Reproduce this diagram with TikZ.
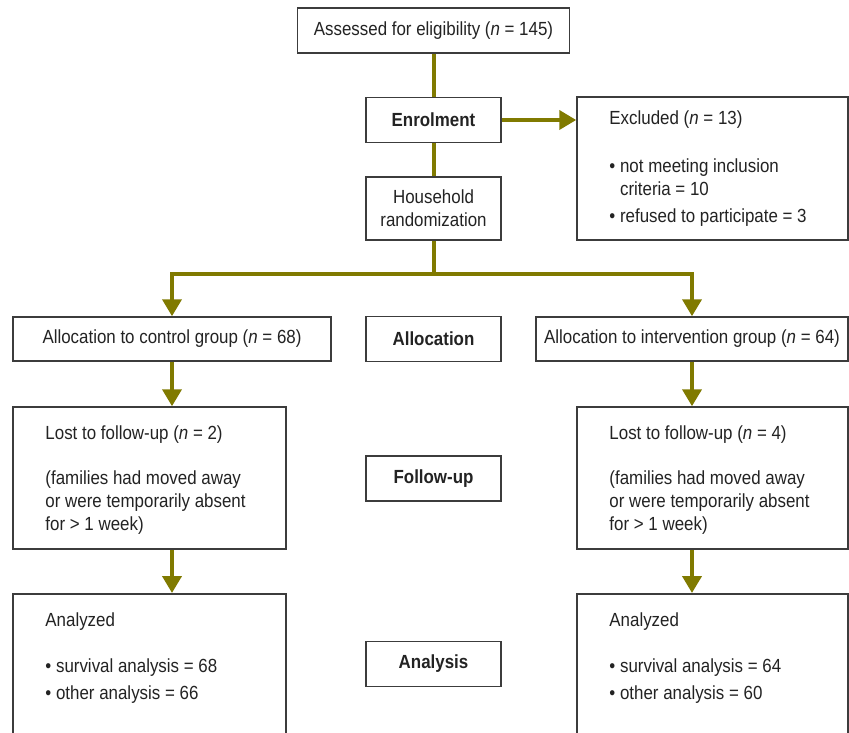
\documentclass[tikz,border=0pt]{standalone}
\usepackage{fontspec}
\setmainfont{Liberation Sans}[FakeStretch=0.89]
\usepackage{xcolor}
\usepackage{tikz}
\usetikzlibrary{arrows.meta, positioning, calc}
\definecolor{flowolive}{RGB}{128,122,0}
\definecolor{framegray}{RGB}{60,60,60}
\definecolor{inkgray}{RGB}{35,35,35}
\tikzset{
    frame/.style={
        rectangle,
        draw=framegray,
        line width=1.5pt,
        fill=white,
        inner sep=0pt,
        text=inkgray,
        font=\fontsize{19}{23}\selectfont
    },
    stage/.style={
        frame,
        minimum width=135pt,
        minimum height=45pt,
        font=\fontsize{19}{23}\selectfont\bfseries
    },
    boxtext/.style={
        anchor=west,
        align=left,
        inner sep=0pt,
        text=inkgray,
        font=\fontsize{19}{23}\selectfont
    },
    link/.style={
        draw=flowolive,
        line width=4pt
    },
    arrowlink/.style={
        link,
        -{Triangle[length=17pt,width=19pt]}
    }
}

\begin{document}
\begin{tikzpicture}[x=1pt, y=-1pt]
\useasboundingbox (0,0) rectangle (849,733);
\clip (0,0) rectangle (849,733);

% Centre column
\node[frame, minimum width=272pt, minimum height=45pt] (assess) at (433.5,30.5) {Assessed for eligibility (\textit{n} = 145)};
\node[stage] (enrol) at (433.5,120) {Enrolment};
\node[frame, minimum width=135pt, minimum height=63pt, align=center] (house) at (433.5,208.5) {Household\\randomization};
\node[stage] (alloc) at (433.5,339) {Allocation};
\node[stage] (follow) at (433.5,478.5) {Follow-up};
\node[stage] (analysis) at (433.5,664) {Analysis};

% Excluded
\node[frame, minimum width=271pt, minimum height=143pt] (excl) at (712.5,168.5) {};
\node[boxtext] (excltext) at ([xshift=33pt]excl.west) {Excluded (\textit{n} = 13)\\[25pt]
\textbullet\ not meeting inclusion\\
\hphantom{\textbullet\ }criteria = 10\\[4.5pt]
\textbullet\ refused to participate = 3};

% Allocation groups
\node[frame, minimum width=318pt, minimum height=44pt] (ctrl) at (172,339) {Allocation to control group (\textit{n} = 68)};
\node[frame, minimum width=312pt, minimum height=44pt] (interv) at (692,339) {Allocation to intervention group (\textit{n} = 64)};

% Follow-up boxes
\node[frame, minimum width=273pt, minimum height=142pt] (lostC) at (149.5,478) {};
\node[boxtext] (lostCtext) at ([xshift=33pt,yshift=-2pt]lostC.west) {Lost to follow-up (\textit{n} = 2)\\[22.5pt]
(families had moved away\\
or were temporarily absent\\
for > 1 week)};
\node[frame, minimum width=271pt, minimum height=142pt] (lostI) at (712.5,478) {};
\node[boxtext] (lostItext) at ([xshift=33pt,yshift=-2pt]lostI.west) {Lost to follow-up (\textit{n} = 4)\\[22.5pt]
(families had moved away\\
or were temporarily absent\\
for > 1 week)};

% Analysis boxes (run off the bottom)
\node[frame, minimum width=273pt, minimum height=180pt, anchor=north] (anaC) at (149.5,593) {};
\node[boxtext, anchor=north west] (anaCtext) at ([xshift=33pt,yshift=-20pt]anaC.north west) {Analyzed\\[23pt]
\textbullet\ survival analysis = 68\\[4pt]
\textbullet\ other analysis = 66};
\node[frame, minimum width=271pt, minimum height=180pt, anchor=north] (anaI) at (712.5,593) {};
\node[boxtext, anchor=north west] (anaItext) at ([xshift=33pt,yshift=-20pt]anaI.north west) {Analyzed\\[23pt]
\textbullet\ survival analysis = 64\\[4pt]
\textbullet\ other analysis = 60};

% Flow
\draw[link] (assess) -- (enrol);
\draw[link] (enrol) -- (house);
\draw[arrowlink] (enrol.east) -- (enrol.east -| excl.west);
\coordinate (split) at ($(house.south)+(0,33)$);
\draw[link] (house) -- (split);
\draw[arrowlink] (split) -| (ctrl.north);
\draw[arrowlink] (split) -| (interv.north);

\draw[arrowlink] (ctrl.south) -- (ctrl.south |- lostC.north);
\draw[arrowlink] (ctrl.south |- lostC.south) -- (ctrl.south |- anaC.north);
\draw[arrowlink] (interv.south) -- (interv.south |- lostI.north);
\draw[arrowlink] (interv.south |- lostI.south) -- (interv.south |- anaI.north);

\end{tikzpicture}
\end{document}
